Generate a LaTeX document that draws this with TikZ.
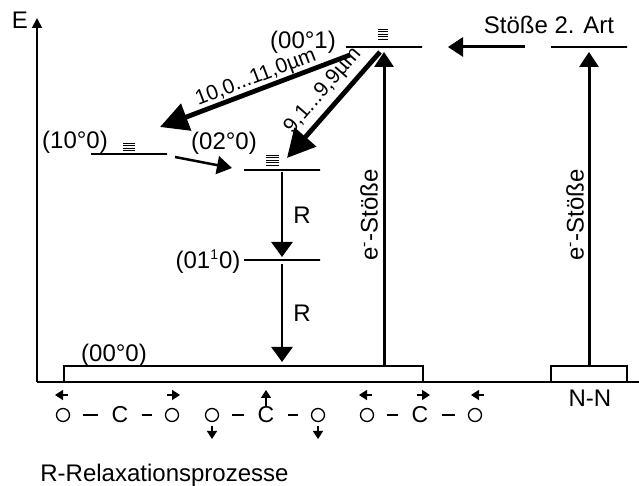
\documentclass[tikz,border=0pt]{standalone}
\usepackage{fontspec}
\setmainfont{Liberation Sans}
\usetikzlibrary{arrows.meta, positioning}

\begin{document}
\begin{tikzpicture}[
    x=0.5pt, y=-0.5pt,
    every node/.style={font=\fontsize{12}{14}\selectfont, inner sep=0pt},
    level/.style={rectangle, draw, line width=0.8pt, minimum width=38pt, minimum height=0pt, outer sep=0pt},
    ground/.style={rectangle, draw, line width=0.8pt, minimum height=8pt, outer sep=0pt},
    axis/.style={line width=0.9pt, -{Triangle[length=5pt, width=5pt]}},
    pump/.style={line width=1.5pt, -{Triangle[length=7.5pt, width=9.5pt]}},
    laser/.style={line width=2.4pt, -{Triangle[length=14pt, width=14pt]}},
    relax/.style={line width=1.35pt, -{Triangle[length=7.5pt, width=10.5pt]}},
    transfer/.style={line width=1.25pt, -{Triangle[length=7.5pt, width=9pt]}},
    stack/.style={line width=0.4pt},
    wave/.style={font=\fontsize{10.5}{12}\selectfont},
    atom/.style={circle, draw, line width=0.65pt, minimum size=6.5pt},
    carbon/.style={font=\fontsize{11.5}{13}\selectfont},
    bond/.style={line width=0.75pt, shorten <=6.5pt, shorten >=6.5pt},
    swing/.style={line width=0.8pt, -{Triangle[length=4pt, width=5pt]}}
]
\useasboundingbox (0,0) rectangle (639,486);

% ============ AXES ============
\coordinate (origin) at (37,382);
\coordinate (etop) at (37,18);
\coordinate (xend) at (639,382);
\draw[axis] (origin) -- (etop);
\draw[line width=0.9pt] (origin) -- (xend);
\node (elabel) at (20,20) {E};

% ============ LEVELS ============
\node[ground, minimum width=179.5pt] (g000) at (243.5,374) {};
\node[ground, minimum width=38pt] (gnn) at (589,374) {};
\node[level] (l001) at (384,47) {};
\node[level] (l2art) at (589,47) {};
\node[level] (l100) at (129,154) {};
\node[level] (l020) at (282,170) {};
\node[level] (l011) at (282,260) {};

% Level names
\node (n001) at (303,42) {(00°1)};
\node (n100) at (75,142) {(10°0)};
\node (n020) at (224,143) {(02°0)};
\node (n011) at (208,262) {(01\textsuperscript{\fontsize{7}{8}\selectfont 1}0)};
\node (n000) at (114,355) {(00°0)};
\node (nn) at (590,398) {N-N};

% Sublevels
\foreach \y in {29,31.5,...,39} \draw[stack] (378,\y) -- (388,\y);
\foreach \y in {143,145.5,...,153} \draw[stack] (123,\y) -- (135,\y);
\foreach \y in {155,157.5,...,165} \draw[stack] (266,\y) -- (279,\y);

% ============ PUMPING ============
\draw[pump] (l001 |- g000.north) -- ([yshift=-2.5pt]l001.center);
\draw[pump] (gnn.north) -- ([yshift=-2.5pt]l2art.center);
\draw[pump, shorten <=13pt, shorten >=13pt] (l2art.west) -- (l001.east);
\node (stoss) at (549,25) {Stöße 2. Art};
\node[rotate=90] (es1) at (369,215) {e\textsuperscript{-}-Stöße};
\node[rotate=90] (es2) at (575,215) {e\textsuperscript{-}-Stöße};

% ============ LASER TRANSITIONS ============
\coordinate (t1) at (350,55);
\coordinate (h1) at (160,127);
\coordinate (t2) at (380,52);
\coordinate (h2) at (287,158);
\draw[laser] (t1) -- (h1);
\draw[laser] (t2) -- (h2);
\node[wave, rotate=21] (w1) at (256,78) {10,0...11,0µm};
\node[wave, rotate=49] (w2) at (323,91) {9,1...9,9µm};

% (10°0) -> (02°0)
\coordinate (t3) at (175,157);
\coordinate (h3) at (232,168);
\draw[transfer] (t3) -- (h3);

% Relaxation
\draw[relax] ([yshift=-1pt]l020.center) -- ([yshift=1.5pt]l011.center);
\draw[relax] ([yshift=-2pt]l011.center) -- ([yshift=2pt]l011 |- g000.north);
\node (r1) at (302,215) {R};
\node (r2) at (302,313) {R};

% ============ MOLECULE MODES ============
\node[atom] (m1a) at (63,415) {};
\node[carbon] (m1c) at (120,415) {C};
\node[atom] (m1b) at (172,415) {};
\draw[bond] (m1a) -- (m1c);
\draw[bond] (m1c) -- (m1b);
\draw[swing] ([xshift=2.5pt, yshift=10pt]m1a.center) -- ++(-13,0);
\draw[swing] ([xshift=-2.5pt, yshift=10pt]m1b.center) -- ++(13,0);

\node[atom] (m2a) at (212,415) {};
\node[carbon] (m2c) at (266,415) {C};
\node[atom] (m2b) at (318,415) {};
\draw[bond] (m2a) -- (m2c);
\draw[bond] (m2c) -- (m2b);
\draw[swing] ([yshift=-5.5pt]m2a.center) -- ++(0,13);
\draw[swing] ([yshift=-5.5pt]m2b.center) -- ++(0,13);
\draw[swing] ([yshift=4.5pt]m2c.center) -- ++(0,-16);

\node[atom] (m3a) at (367,415) {};
\node[carbon] (m3c) at (420,415) {C};
\node[atom] (m3b) at (475,415) {};
\draw[bond] (m3a) -- (m3c);
\draw[bond] (m3c) -- (m3b);
\draw[swing] ([xshift=2.5pt, yshift=10pt]m3a.center) -- ++(-13,0);
\draw[swing] ([xshift=-1.5pt, yshift=10pt]m3c.center) -- ++(13,0);
\draw[swing] ([xshift=4.5pt, yshift=10pt]m3b.center) -- ++(-13,0);

\node[anchor=west] (caption) at (40,475) {R-Relaxationsprozesse};

\end{tikzpicture}
\end{document}
